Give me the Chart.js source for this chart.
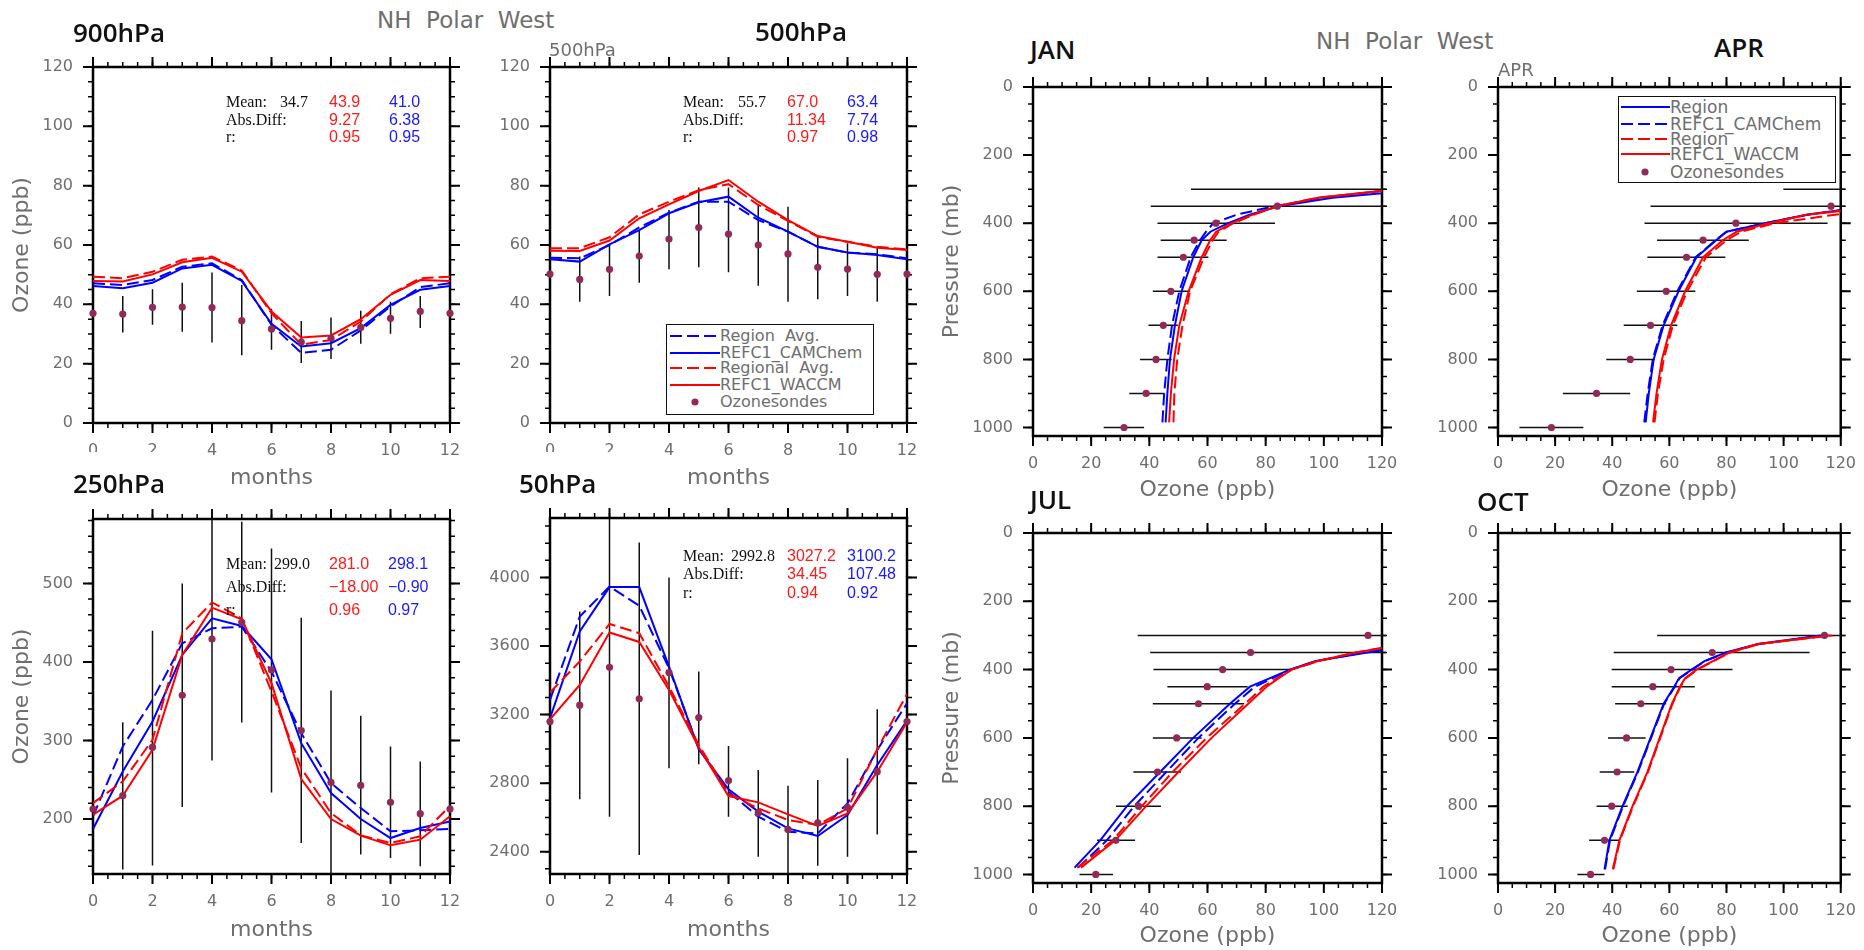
<!DOCTYPE html>
<html><head><meta charset="utf-8">
<script src="https://cdn.jsdelivr.net/npm/chart.js@4.4.1/dist/chart.umd.min.js"></script>
<style>
html,body{margin:0;padding:0;background:#fff;}
body{width:1864px;height:950px;overflow:hidden;position:relative;font-family:'DejaVu Sans',sans-serif;}
canvas{position:absolute;}
.t{position:absolute;white-space:pre;line-height:1;transform:translateY(-50%);}
.big{font-family:'Open Sans',sans-serif;font-size:26px;font-weight:600;color:#111;}
.ncl{font-family:'DejaVu Sans',sans-serif;color:#6e6e6e;}
.lab{font-family:'Liberation Serif',serif;font-size:16px;color:#111;}
.num{font-family:'Liberation Sans',sans-serif;font-size:16px;}
.r{color:#ff1a1a;} .b{color:#1a1aff;}
.cover{position:absolute;background:#fff;}
.lgbox{position:absolute;border:1.5px solid #111;box-sizing:border-box;background:#fff;}
svg{position:absolute;overflow:visible;}
</style></head>
<body>
<canvas id="c1" width="472" height="446" style="left:3px;top:47px"></canvas>
<canvas id="c2" width="472" height="446" style="left:460px;top:47px"></canvas>
<canvas id="c3" width="472" height="445" style="left:3px;top:499px"></canvas>
<canvas id="c4" width="472" height="446" style="left:460px;top:498px"></canvas>
<canvas id="c5" width="469" height="439" style="left:938px;top:67px"></canvas>
<canvas id="c6" width="456" height="439" style="left:1408px;top:67px"></canvas>
<canvas id="c7" width="469" height="436" style="left:938px;top:513px"></canvas>
<canvas id="c8" width="456" height="436" style="left:1408px;top:513px"></canvas>

<div class="cover" style="left:60px;top:452px;width:115px;height:48px"></div>
<div class="cover" style="left:505px;top:452px;width:120px;height:48px"></div>

<!-- headings -->
<div class="t ncl" style="left:377px;top:20px;font-size:23px">NH  Polar  West</div>
<div class="t ncl" style="left:1316px;top:41px;font-size:23px">NH  Polar  West</div>
<div class="t ncl" style="left:549px;top:50px;font-size:18px">500hPa</div>
<div class="t ncl" style="left:1498px;top:70px;font-size:18px">APR</div>

<div class="t big" style="left:73px;top:31.5px">900hPa</div>
<div class="t big" style="left:755px;top:31px">500hPa</div>
<div class="t big" style="left:73px;top:482.5px">250hPa</div>
<div class="t big" style="left:519px;top:483px">50hPa</div>
<div class="t big" style="left:1030px;top:49px">JAN</div>
<div class="t big" style="left:1714px;top:47px">APR</div>
<div class="t big" style="left:1030px;top:499px">JUL</div>
<div class="t big" style="left:1477px;top:501px">OCT</div>

<!-- stats 900 -->
<div class="t lab" style="left:226px;top:101.7px">Mean:</div>
<div class="t lab" style="left:280px;top:101.7px">34.7</div>
<div class="t num r" style="left:329px;top:101.7px">43.9</div>
<div class="t num b" style="left:389px;top:101.7px">41.0</div>
<div class="t lab" style="left:226px;top:120px">Abs.Diff:</div>
<div class="t num r" style="left:329px;top:120px">9.27</div>
<div class="t num b" style="left:389px;top:120px">6.38</div>
<div class="t lab" style="left:226px;top:137.3px">r:</div>
<div class="t num r" style="left:329px;top:137.3px">0.95</div>
<div class="t num b" style="left:389px;top:137.3px">0.95</div>
<!-- stats 500 -->
<div class="t lab" style="left:683px;top:101.7px">Mean:</div>
<div class="t lab" style="left:738px;top:101.7px">55.7</div>
<div class="t num r" style="left:787px;top:101.7px">67.0</div>
<div class="t num b" style="left:847px;top:101.7px">63.4</div>
<div class="t lab" style="left:683px;top:120px">Abs.Diff:</div>
<div class="t num r" style="left:787px;top:120px">11.34</div>
<div class="t num b" style="left:847px;top:120px">7.74</div>
<div class="t lab" style="left:683px;top:137.3px">r:</div>
<div class="t num r" style="left:787px;top:137.3px">0.97</div>
<div class="t num b" style="left:847px;top:137.3px">0.98</div>
<!-- stats 250 -->
<div class="t lab" style="left:226px;top:564.3px">Mean:</div>
<div class="t lab" style="left:274px;top:564.3px">299.0</div>
<div class="t num r" style="left:329px;top:564.3px">281.0</div>
<div class="t num b" style="left:388px;top:564.3px">298.1</div>
<div class="t lab" style="left:226px;top:587.3px">Abs.Diff:</div>
<div class="t num r" style="left:329px;top:587.3px">−18.00</div>
<div class="t num b" style="left:388px;top:587.3px">−0.90</div>
<div class="t lab" style="left:226px;top:610px">r:</div>
<div class="t num r" style="left:329px;top:610px">0.96</div>
<div class="t num b" style="left:388px;top:610px">0.97</div>
<!-- stats 50 -->
<div class="t lab" style="left:683px;top:556px">Mean:</div>
<div class="t lab" style="left:731px;top:556px">2992.8</div>
<div class="t num r" style="left:787px;top:556px">3027.2</div>
<div class="t num b" style="left:847px;top:556px">3100.2</div>
<div class="t lab" style="left:683px;top:574.3px">Abs.Diff:</div>
<div class="t num r" style="left:787px;top:574.3px">34.45</div>
<div class="t num b" style="left:847px;top:574.3px">107.48</div>
<div class="t lab" style="left:683px;top:592.7px">r:</div>
<div class="t num r" style="left:787px;top:592.7px">0.94</div>
<div class="t num b" style="left:847px;top:592.7px">0.92</div>

<!-- legend 500hPa -->
<div class="lgbox" style="left:666px;top:324px;width:208px;height:91px"></div>
<svg style="left:670px;top:336px" width="50" height="1"><line x1="0" y1="0" x2="50" y2="0" stroke="#00f" stroke-width="2" stroke-dasharray="12 5"/></svg>
<svg style="left:670px;top:352.7px" width="50" height="1"><line x1="0" y1="0" x2="50" y2="0" stroke="#00f" stroke-width="2"/></svg>
<svg style="left:670px;top:368.3px" width="50" height="1"><line x1="0" y1="0" x2="50" y2="0" stroke="#f00" stroke-width="2" stroke-dasharray="12 5"/></svg>
<svg style="left:670px;top:385px" width="50" height="1"><line x1="0" y1="0" x2="50" y2="0" stroke="#f00" stroke-width="2"/></svg>
<svg style="left:695px;top:402.3px" width="1" height="1"><circle cx="0" cy="0" r="3.6" fill="#922a58"/></svg>
<div class="t ncl" style="left:720px;top:336px;font-size:16px">Region  Avg.</div>
<div class="t ncl" style="left:720px;top:352.7px;font-size:16px">REFC1_CAMChem</div>
<div class="t ncl" style="left:720px;top:368.3px;font-size:16px">Regional  Avg.</div>
<div class="t ncl" style="left:720px;top:385px;font-size:16px">REFC1_WACCM</div>
<div class="t ncl" style="left:720px;top:402.3px;font-size:16px">Ozonesondes</div>

<!-- legend APR -->
<div class="lgbox" style="left:1618px;top:96px;width:218px;height:87px"></div>
<svg style="left:1621px;top:107.3px" width="49" height="1"><line x1="0" y1="0" x2="49" y2="0" stroke="#00f" stroke-width="2"/></svg>
<svg style="left:1621px;top:124px" width="49" height="1"><line x1="0" y1="0" x2="49" y2="0" stroke="#00f" stroke-width="2" stroke-dasharray="12 5"/></svg>
<svg style="left:1621px;top:139px" width="49" height="1"><line x1="0" y1="0" x2="49" y2="0" stroke="#f00" stroke-width="2" stroke-dasharray="12 5"/></svg>
<svg style="left:1621px;top:154.3px" width="49" height="1"><line x1="0" y1="0" x2="49" y2="0" stroke="#f00" stroke-width="2"/></svg>
<svg style="left:1645px;top:171.7px" width="1" height="1"><circle cx="0" cy="0" r="3.6" fill="#922a58"/></svg>
<div class="t ncl" style="left:1670px;top:107.3px;font-size:17px">Region</div>
<div class="t ncl" style="left:1670px;top:124px;font-size:17px">REFC1_CAMChem</div>
<div class="t ncl" style="left:1670px;top:139px;font-size:17px">Region</div>
<div class="t ncl" style="left:1670px;top:154.3px;font-size:17px">REFC1_WACCM</div>
<div class="t ncl" style="left:1670px;top:171.7px;font-size:17px">Ozonesondes</div>

<script>
// ---------------- DATA ----------------
const months = [0,1,2,3,4,5,6,7,8,9,10,11,12];
const monthTicks = [0,2,4,6,8,10,12];
const ppbTicks = [0,20,40,60,80,100,120];
const ticks250 = [200,300,400,500];
const ticks50 = [2400,2800,3200,3600,4000];
const pressTicks = [0,200,400,600,800,1000];

// 900 hPa
const sonde900   = [37.0,36.7,39.0,39.1,38.9,34.5,31.7,27.3,28.6,32.2,35.3,37.6,37.0];
const sonde900Lo = [null,30.5,33.1,30.8,27.1,22.8,24.7,20.2,21.6,26.7,30.1,32.0,null];
const sonde900Hi = [null,42.8,45.1,47.3,50.7,46.5,38.5,34.4,35.6,37.8,40.9,42.8,null];
const waccm900    = [47.9,47.7,50.1,54.2,55.7,51.0,37.6,28.8,29.5,35.0,43.2,48.2,47.9];
const waccmReg900 = [49.3,48.8,51.0,55.0,56.1,51.4,37.0,26.4,28.0,34.2,43.4,48.8,49.3];
const cam900      = [46.2,45.4,47.3,52.1,53.3,47.9,33.4,25.8,26.9,32.0,39.8,44.9,46.2];
const camReg900   = [47.1,46.5,48.2,52.7,53.8,48.2,33.1,23.6,24.7,31.2,39.3,45.8,47.1];

// 500 hPa
const sonde500   = [50.2,48.4,51.8,56.3,62.0,65.9,63.7,60.0,57.0,52.5,51.9,50.1,50.2];
const sonde500Lo = [null,40.9,42.8,47.3,51.8,52.5,50.8,46.3,40.9,41.7,42.8,40.9,null];
const sonde500Hi = [null,56.1,60.0,64.8,71.8,79.4,79.4,73.8,72.9,63.0,60.6,59.2,null];
const waccm500    = [58.1,58.0,61.5,69.0,73.7,78.2,81.9,74.6,68.4,63.0,61.1,59.1,58.3];
const waccmReg500 = [58.9,58.9,62.6,70.3,74.6,78.5,80.5,73.5,68.1,62.8,61.1,59.4,58.5];
const cam500      = [55.2,54.4,60.2,65.0,70.7,74.4,76.3,69.2,64.5,59.4,57.5,56.6,55.2];
const camReg500   = [55.7,55.5,60.0,65.9,70.9,74.6,74.6,68.4,64.5,59.4,57.4,56.9,55.5];

// 250 hPa
const sonde250   = [212.7,229.7,291.5,357.6,429.2,450.4,389.8,312.7,246.6,242.8,221.2,206.8,212.7];
const sonde250Lo = [null,135.6,140.7,215.3,274.6,322.9,233.9,169.5,129.2,154.7,150.4,139.8,null];
const sonde250Hi = [null,323.3,439.8,500.0,594.5,578.4,544.5,456.4,363.6,331.4,292.4,273.3,null];
const waccm250    = [205.5,229.7,288.1,408.9,469.1,454.2,372.9,250.8,200.0,178.8,166.5,173.7,203.4];
const waccmReg250 = [220.3,247.9,300.8,436.4,475.8,455.5,362.3,264.8,207.6,179.2,169.5,178.0,216.9];
const cam250      = [187.3,260.6,324.2,408.9,455.5,445.8,403.4,296.6,233.1,200.0,175.8,188.6,197.0];
const camReg250   = [203.4,292.4,351.7,423.7,442.8,444.9,387.7,309.3,245.8,214.0,184.3,185.6,187.3];

// 50 hPa
const sonde50   = [3159,3255,3476,3292,3445,3183,2815,2628,2530,2569,2659,2867,3159];
const sonde50Lo = [null,2706,2604,2381,2887,2910,2604,2371,2264,2318,2371,2501,null];
const sonde50Hi = [null,3802,4346,4204,4000,3451,3017,2877,2785,2819,2945,3231,null];
const waccm50    = [3173,3373,3679,3624,3344,3009,2725,2688,2618,2550,2624,2867,3155];
const waccmReg50 = [3329,3510,3729,3675,3364,3023,2737,2653,2585,2556,2653,2998,3321];
const cam50      = [3179,3685,3944,3944,3480,2998,2764,2634,2536,2492,2614,2906,3165];
const camReg50   = [3286,3772,3947,3835,3471,3003,2750,2604,2517,2507,2682,2994,3266];

// Profiles
const sondeLevels = [1000,900,800,700,600,500,450,400,350,300];
const modelLevels = [985,900,800,700,600,500,450,425,400,375,350,325,300];
const modelLevelsJul = [980,900,800,700,600,500,450,425,400,375,350,325,300];

const janSonde = [31.3,38.9,42.3,44.8,47.4,51.7,55.4,62.9,84.0,140];
const janLo    = [24.3,33.1,36.8,39.7,41.2,42.8,43.9,42.8,40.5,54.3];
const janHi    = [38.2,45.2,47.7,49.8,54.0,60.3,66.6,83.2,127,226];
const janRegion  = [45.6,46.2,47.1,48.8,51.1,55.1,58.0,61.0,67.1,74.5,84.5,103,135];
const janCam     = [44.5,45.1,46.2,47.8,50.3,54.2,57.4,59.5,62.0,70.0,83.0,100,125];
const janRegionW = [48.3,48.6,49.6,51.4,54.0,58.8,61.8,63.8,68.9,76.0,84.0,98,126];
const janWaccm   = [46.8,47.4,48.5,50.3,53.5,58.0,60.9,63.0,68.3,75.5,84.0,98,125];

const aprSonde = [18.7,34.5,46.3,53.4,58.9,66.0,71.8,83.3,116.6,150];
const aprLo    = [7.5,22.7,37.9,44.0,48.6,52.3,55.7,51.3,53.4,99.9];
const aprHi    = [29.9,46.3,54.9,62.8,69.1,79.6,87.8,115.4,180,200];
const aprRegion  = [51.7,52.8,54.5,58.0,63.2,69.5,76.4,80.0,93.6,108.0,130,150,170];
const aprCam     = [51.2,52.4,54.2,57.6,62.8,69.2,76.2,80.0,93.5,108.5,131,150,170];
const aprRegionW = [54.8,56.0,58.0,61.2,66.2,72.8,80.0,85.0,97.0,118.0,140,160,180];
const aprWaccm   = [54.3,55.5,57.4,60.6,65.5,71.8,78.7,83.5,94.7,108.0,135,150,165];

const julSonde = [21.6,28.5,36.3,42.8,49.4,56.9,59.9,65.2,74.8,115.2];
const julLo    = [16.0,22.0,28.5,34.5,41.2,41.2,46.2,41.4,40.3,36.0];
const julHi    = [27.5,35.1,44.0,50.9,58.0,72.6,73.8,88.9,130,195];
const julRegion  = [14.3,23.1,32.3,43.7,55.1,67.7,74.6,81.5,88.3,97.2,115,136,157];
const julCam     = [15.5,25.4,34.8,45.8,56.9,69.4,76.3,82.5,88.5,97.5,114,134,155];
const julRegionW = [15.2,27.5,37.4,48.0,59.7,72.9,79.2,84.0,88.9,98.0,111,128,148];
const julWaccm   = [16.5,28.3,38.9,50.0,61.4,74.0,80.3,84.5,88.9,98.0,111,128,148];

const octSonde = [32.4,37.3,39.8,41.7,45.0,50.0,54.2,60.6,75.0,114.3];
const octLo    = [27.8,31.9,34.5,35.6,38.5,41.0,39.8,39.8,40.5,55.7];
const octHi    = [37.3,42.7,45.4,47.7,51.7,58.9,68.9,82.1,109.1,173];
const octRegion  = [37.3,39.0,43.6,48.8,53.4,58.0,61.7,63.4,67.8,72.3,79.8,91.0,113];
const octCam     = [37.5,39.2,43.8,49.0,53.6,58.2,61.9,63.6,68.0,72.5,80.0,91.5,114];
const octRegionW = [40.4,42.7,47.3,52.5,56.8,61.1,63.9,65.8,69.8,75.5,81.3,91.5,117];
const octWaccm   = [40.2,42.5,47.1,52.3,56.6,60.9,63.7,65.5,69.5,75.2,81.0,91.0,116];

// ---------------- STYLE / HELPERS ----------------
const FONT = 'DejaVu Sans';
const GRAY = '#6e6e6e';
const BLUE = '#0000ff', RED = '#ff0000', DOT = '#922a58', BAR = '#111';
const DASH = [12,5];

const frameTicks = {
  id: 'frameTicks',
  beforeDatasetsDraw(chart, args, opts) {
    const {ctx, chartArea: a} = chart;
    const x = chart.scales.x, y = chart.scales.y;
    const minorVals = (s, step) => {
      const out = [];
      const lo = Math.min(s.min, s.max), hi = Math.max(s.min, s.max);
      for (let v = Math.ceil(lo / step) * step; v <= hi + 1e-9; v += step) out.push(v);
      return out;
    };
    ctx.save();
    ctx.strokeStyle = '#000';
    const drawX = (vals, len, lw) => {
      ctx.lineWidth = lw; ctx.beginPath();
      vals.forEach(v => { const p = x.getPixelForValue(v);
        ctx.moveTo(p, a.bottom); ctx.lineTo(p, a.bottom + len);
        ctx.moveTo(p, a.top); ctx.lineTo(p, a.top - len); });
      ctx.stroke();
    };
    const drawY = (vals, len, lw) => {
      ctx.lineWidth = lw; ctx.beginPath();
      vals.forEach(v => { const p = y.getPixelForValue(v);
        ctx.moveTo(a.left, p); ctx.lineTo(a.left - len, p);
        ctx.moveTo(a.right, p); ctx.lineTo(a.right + len, p); });
      ctx.stroke();
    };
    drawX(minorVals(x, opts.xMinor), 5, 1.5);
    drawY(minorVals(y, opts.yMinor), 5, 1.5);
    drawX(x.ticks.map(t => t.value), 10, 2);
    drawY(y.ticks.map(t => t.value), 10, 2);
    ctx.lineWidth = 2.5;
    ctx.strokeRect(a.left, a.top, a.width, a.height);
    ctx.restore();
  }
};

function axis(o) {
  const left = o.pos === 'left';
  return {
    type: 'linear', position: o.pos, min: o.min, max: o.max, reverse: !!o.reverse,
    afterBuildTicks: s => { s.ticks = o.ticks.map(v => ({value: v})); },
    afterFit: s => { if (left) s.width = o.size; else s.height = o.size; },
    ticks: {autoSkip: false, maxRotation: 0, minRotation: 0, padding: left ? 10 : 8, color: GRAY,
            font: {family: FONT, size: 16}, callback: v => String(v)},
    grid: {display: false, drawTicks: true, tickLength: 10},
    border: {display: false},
    title: {display: !!o.title, text: o.title || '', color: GRAY, font: {family: FONT, size: 22},
            padding: left ? {top: o.tpad || 0, bottom: 0} : {top: 0, bottom: o.tpad || 0}}
  };
}

function makeChart(id, cfg) {
  return new Chart(document.getElementById(id), {
    type: 'line',
    data: {datasets: cfg.datasets},
    options: {
      responsive: false, animation: false, devicePixelRatio: 1,
      layout: {padding: {top: 20, right: cfg.padR, left: 0, bottom: 0}},
      plugins: {legend: {display: false}, tooltip: {enabled: false}, frameTicks: cfg.minor},
      scales: {x: axis(cfg.x), y: axis(cfg.y)}
    },
    plugins: [frameTicks]
  });
}

function monthSets(sonde, lo, hi, cam, camReg, waccm, waccmReg, barClip) {
  const pts = arr => months.map((m, i) => ({x: m, y: arr[i]}));
  const bars = [];
  months.forEach((m, i) => { if (lo[i] != null) bars.push({x: m, y: lo[i]}, {x: m, y: hi[i]}, {x: m, y: null}); });
  return [
    {label: 'Ozonesondes', data: pts(sonde), showLine: false, pointRadius: 3.6, pointBackgroundColor: DOT, pointBorderWidth: 0, clip: false},
    {label: 'REFC1_WACCM', data: pts(waccm), borderColor: RED, borderWidth: 2, pointRadius: 0},
    {label: 'Regional Avg.', data: pts(waccmReg), borderColor: RED, borderWidth: 2, borderDash: DASH, pointRadius: 0},
    {label: 'REFC1_CAMChem', data: pts(cam), borderColor: BLUE, borderWidth: 2, pointRadius: 0},
    {label: 'Region Avg.', data: pts(camReg), borderColor: BLUE, borderWidth: 2, borderDash: DASH, pointRadius: 0},
    {label: 'sd', data: bars, borderColor: BAR, borderWidth: 1.5, pointRadius: 0, spanGaps: false, clip: barClip}
  ];
}

function profileSets(levels, sonde, lo, hi, region, cam, regionW, waccm) {
  const pts = arr => levels.map((p, i) => ({x: arr[i], y: p}));
  const bars = [];
  sondeLevels.forEach((p, i) => { bars.push({x: lo[i], y: p}, {x: hi[i], y: p}, {x: 0, y: null}); });
  return [
    {label: 'Ozonesondes', data: sondeLevels.map((p, i) => ({x: sonde[i], y: p})), showLine: false, pointRadius: 3.6, pointBackgroundColor: DOT, pointBorderWidth: 0},
    {label: 'REFC1_WACCM', data: pts(waccm), borderColor: RED, borderWidth: 2, pointRadius: 0},
    {label: 'Region (WACCM)', data: pts(regionW), borderColor: RED, borderWidth: 2, borderDash: DASH, pointRadius: 0},
    {label: 'REFC1_CAMChem', data: pts(cam), borderColor: BLUE, borderWidth: 2, borderDash: DASH, pointRadius: 0},
    {label: 'Region', data: pts(region), borderColor: BLUE, borderWidth: 2, pointRadius: 0},
    {label: 'sd', data: bars, borderColor: BAR, borderWidth: 1.5, pointRadius: 0, spanGaps: false, clip: {left: 0, top: 0, right: 4, bottom: 0}}
  ];
}

const monthX = (tpad) => ({pos: 'bottom', min: 0, max: 12, ticks: monthTicks, size: 70, title: 'months', tpad});
const ozoneX = (size, tpad) => ({pos: 'bottom', min: 0, max: 120, ticks: ppbTicks, size, title: 'Ozone (ppb)', tpad});
const pressY = (size, title, tpad) => ({pos: 'left', min: 0, max: 1025, reverse: true, ticks: pressTicks, size, title, tpad});

makeChart('c1', {padR: 25, minor: {xMinor: 0.5, yMinor: 5},
  x: monthX(2), y: {pos: 'left', min: 0, max: 120, ticks: ppbTicks, size: 90, title: 'Ozone (ppb)', tpad: 6},
  datasets: monthSets(sonde900, sonde900Lo, sonde900Hi, cam900, camReg900, waccm900, waccmReg900, false)});
makeChart('c2', {padR: 25, minor: {xMinor: 0.5, yMinor: 5},
  x: monthX(2), y: {pos: 'left', min: 0, max: 120, ticks: ppbTicks, size: 90},
  datasets: monthSets(sonde500, sonde500Lo, sonde500Hi, cam500, camReg500, waccm500, waccmReg500, false)});
makeChart('c3', {padR: 25, minor: {xMinor: 0.5, yMinor: 20},
  x: monthX(1), y: {pos: 'left', min: 130, max: 582, ticks: ticks250, size: 90, title: 'Ozone (ppb)', tpad: 6},
  datasets: monthSets(sonde250, sonde250Lo, sonde250Hi, cam250, camReg250, waccm250, waccmReg250, {left: 0, right: 0, top: 12, bottom: 0})});
makeChart('c4', {padR: 25, minor: {xMinor: 0.5, yMinor: 100},
  x: monthX(1), y: {pos: 'left', min: 2270, max: 4347, ticks: ticks50, size: 90},
  datasets: monthSets(sonde50, sonde50Lo, sonde50Hi, cam50, camReg50, waccm50, waccmReg50, 0)});

makeChart('c5', {padR: 25, minor: {xMinor: 5, yMinor: 50},
  x: ozoneX(70, 3), y: pressY(95, 'Pressure (mb)', 1),
  datasets: profileSets(modelLevels, janSonde, janLo, janHi, janRegion, janCam, janRegionW, janWaccm)});
makeChart('c6', {padR: 17, minor: {xMinor: 5, yMinor: 50},
  x: ozoneX(70, 3), y: pressY(90),
  datasets: profileSets(modelLevels, aprSonde, aprLo, aprHi, aprRegion, aprCam, aprRegionW, aprWaccm)});
makeChart('c7', {padR: 25, minor: {xMinor: 5, yMinor: 50},
  x: ozoneX(66, 0), y: pressY(95, 'Pressure (mb)', 1),
  datasets: profileSets(modelLevelsJul, julSonde, julLo, julHi, julRegion, julCam, julRegionW, julWaccm)});
makeChart('c8', {padR: 17, minor: {xMinor: 5, yMinor: 50},
  x: ozoneX(66, 0), y: pressY(90),
  datasets: profileSets(modelLevels, octSonde, octLo, octHi, octRegion, octCam, octRegionW, octWaccm)});
</script>
</body></html>
